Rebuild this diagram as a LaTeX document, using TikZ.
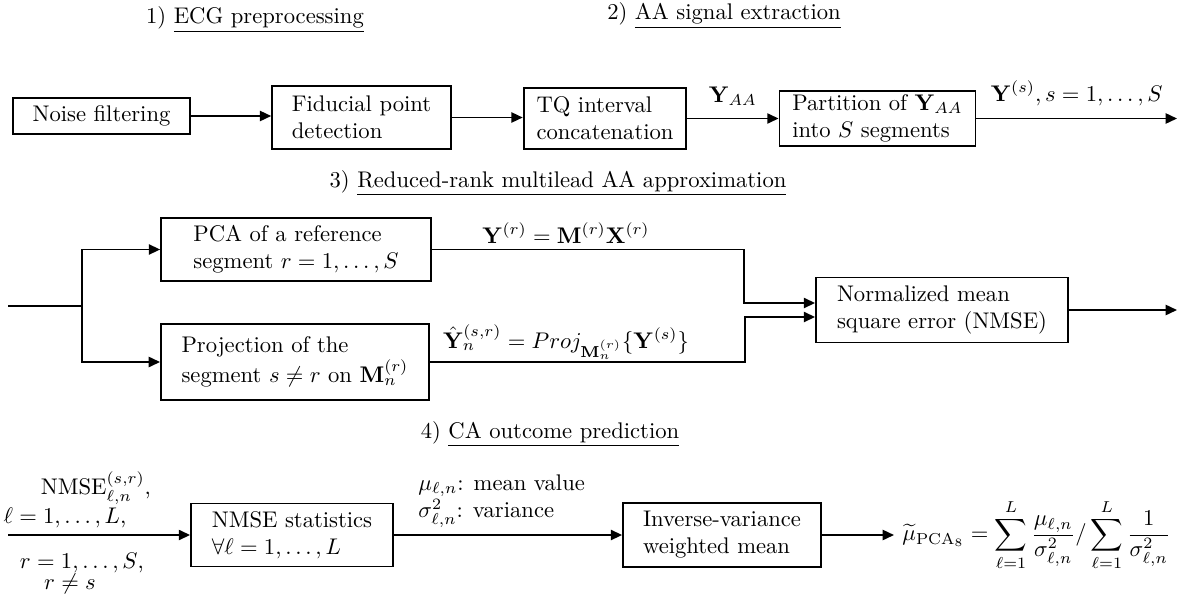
\documentclass[tikz,border=0pt]{standalone}
\usepackage{amsmath}
\usetikzlibrary{arrows.meta}
\begin{document}
\begin{tikzpicture}
[x=0.442pt, y=-0.442pt, thick, >={Triangle[length=5pt,width=4.5pt]}]
\tikzstyle{block}=[draw, align=left, inner xsep=2mm, inner ysep=1pt]
\useasboundingbox (0,0) rectangle (1180,599);

% 1) and 2)
\node	(ttl1)	at (255,20)	{1) \underline{ECG preprocessing}};
\node	(ttl2)	at (724,16)	{2) \underline{AA signal extraction}};
\node[block, minimum width=78pt, minimum height=16pt]	(noise)	at (101.5,116)	{Noise filtering};
\node[block, minimum width=79pt, minimum height=27.8pt]	(fid)	at (361.5,117.5)	{Fiducial point\\detection};
\node[block, minimum width=69pt, minimum height=27pt]	(tq)	at (605,118.5)	{TQ interval\\concatenation};
\node[block, minimum width=85.3pt, minimum height=24.3pt]	(part)	at (877.5,118.5)	{Partition of $\mathbf{Y}_{AA}$\\into $S$ segments};
\coordinate	(out1)	at (1177,118.5);

\draw[->]	(noise.east) -- (noise.east -| fid.west);
\draw[->]	(fid.east) -- (fid.east -| tq.west);
\draw[->]	(tq.east) -- node[above=2pt] (lyaa) {$\mathbf{Y}_{AA}$} (tq.east -| part.west);
\draw[->]	(part.east) -- node[above=2pt] (lys) {$\mathbf{Y}^{(s)}, s = 1, \dots, S$} (out1);

% 3)
\node	(ttl3)	at (558,183)	{3) \underline{Reduced-rank multilead AA approximation}};
\node[block, minimum width=119.3pt, minimum height=27.8pt]	(pca)	at (296,249.5)	{PCA of a reference\\segment $r = 1, \dots, S$};
\node[block, minimum width=118.5pt, minimum height=33.6pt]	(proj)	at (295,362)	{Projection of the\\segment $s \neq r$ on $\mathbf{M}_n^{(r)}$};
\node[block, minimum width=111.4pt, minimum height=28.7pt]	(nmse)	at (942,310)	{Normalized mean\\square error (NMSE)};
\node	(lyr)	at (566,233)	{$\mathbf{Y}^{(r)} = \mathbf{M}^{(r)}\mathbf{X}^{(r)}$};
\node	(lyhat)	at (566,342)	{$\hat{\mathbf{Y}}_n^{(s,r)} = Proj_{\mathbf{M}_n^{(r)}}\{\mathbf{Y}^{(s)}\}$};
\coordinate	(in3)	at (8,306);
\coordinate	(split)	at (82,306);
\coordinate	(m1)	at (744,303);
\coordinate	(m2)	at (745,317);
\coordinate	(out3)	at (1177,310);

\draw	(in3) -- (split);
\draw[->]	(split) |- (pca.west);
\draw[->]	(split) |- (proj.west);
\draw[->]	(pca.east) -| (m1) -- (m1 -| nmse.west);
\draw[->]	(proj.east) -| (m2) -- (m2 -| nmse.west);
\draw[->]	(nmse.east) -- (out3);

% 4)
\node	(ttl4)	at (550,434)	{4) \underline{CA outcome prediction}};
\node[block, minimum width=89.3pt, minimum height=27.8pt]	(stat)	at (292,535)	{NMSE statistics\\$\forall \ell = 1, \dots, L$};
\node[block, minimum width=87.5pt, minimum height=28.3pt]	(ivw)	at (722,535)	{Inverse-variance\\weighted mean};
\node	(lnmse)	at (96,488)	{$\mathrm{NMSE}_{\ell,n}^{(s,r)}$,};
\node	(lell)	at (65,518)	{$\ell = 1, \dots, L$,};
\node	(lr)	at (82,563)	{$r = 1, \dots, S$,};
\node	(lrs)	at (70,584)	{$r \neq s$};
\node[anchor=west, align=left]	(lmu)	at (410,501)	{$\mu_{\ell,n}$: mean value\\$\sigma^2_{\ell,n}$: variance};
\node[anchor=west]	(pred)	at (894,535)	{$\displaystyle \widetilde{\mu}_{\mathrm{PCA}_8} = \sum_{\ell=1}^{L}\frac{\mu_{\ell,n}}{\sigma^2_{\ell,n}} / \sum_{\ell=1}^{L}\frac{1}{\sigma^2_{\ell,n}}$};
\coordinate	(in4)	at (8,535);

\draw[->]	(in4) -- (stat.west);
\draw[->]	(stat.east) -- (ivw.west);
\draw[->]	(ivw.east) -- (pred.west);
\end{tikzpicture}
\end{document}
